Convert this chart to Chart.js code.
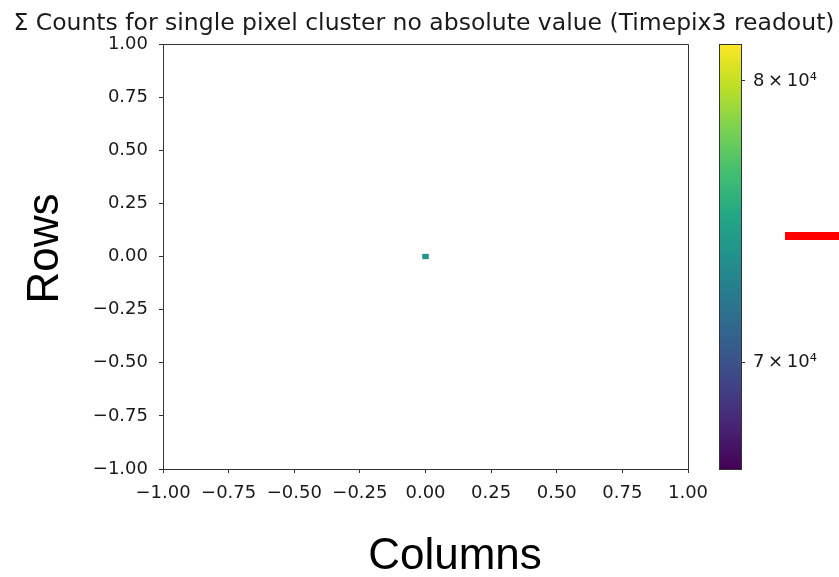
<!DOCTYPE html>
<html>
<head>
<meta charset="utf-8">
<script src="https://cdn.jsdelivr.net/npm/chart.js@4/dist/chart.umd.min.js"></script>
<style>
  html, body { margin: 0; padding: 0; background: #ffffff; overflow: hidden; }
  canvas { display: block; }
</style>
</head>
<body>
<canvas id="c" width="839" height="577"></canvas>
<script>
// ---------------- data ----------------
const titleText = 'Σ Counts for single pixel cluster no absolute value (Timepix3 readout)';
const xAxisLabel = 'Columns';
const yAxisLabel = 'Rows';
const xTickValues = [-1.00, -0.75, -0.50, -0.25, 0.00, 0.25, 0.50, 0.75, 1.00];
const yTickValues = [-1.00, -0.75, -0.50, -0.25, 0.00, 0.25, 0.50, 0.75, 1.00];
const cellColumns = [0.0];      // cell centre (column)
const cellRows = [0.0];         // cell centre (row)
const cellCounts = [74000];     // summed counts in the cell
const cellHalfWidth = 0.0125;   // half bin width in data units
const colorbarMin = 66550;
const colorbarMax = 81410;
const colorbarTickValues = [70000, 80000];
const colorbarTickLabels = ['7\u2009×\u200910⁴', '8\u2009×\u200910⁴'];

// ---------------- style ----------------
const viridisStops = ['#440154','#482475','#414487','#355f8d','#2a788e','#21918c',
                      '#22a884','#44bf70','#7ad151','#bddf26','#fde725'];
const AXIS_COLOR = '#333333';
const TEXT_COLOR = '#1a1a1a';
const TICK_FONT = { family: 'DejaVu Sans', size: 18 };
const CB_BAR_LEFT = 719, CB_BAR_RIGHT = 741;

function hexToRgb(h) {
  return [parseInt(h.slice(1,3),16), parseInt(h.slice(3,5),16), parseInt(h.slice(5,7),16)];
}
function viridis(t) {
  t = Math.max(0, Math.min(1, t));
  const f = t * (viridisStops.length - 1);
  const i = Math.min(viridisStops.length - 2, Math.floor(f));
  const u = f - i;
  const a = hexToRgb(viridisStops[i]), b = hexToRgb(viridisStops[i + 1]);
  const c = a.map((v, k) => Math.round(v + (b[k] - v) * u));
  return `rgb(${c[0]},${c[1]},${c[2]})`;
}
const fmt = v => (Math.abs(v) < 1e-9 ? 0 : v).toFixed(2).replace('-', '\u2212');
const cellData = cellColumns.map((x, i) => ({ x: x, y: cellRows[i], v: cellCounts[i] }));

const heatmapPlugin = {
  id: 'heatmapExtras',
  afterLayout(chart) {
    const cb = chart.scales.cb;
    cb.left = CB_BAR_RIGHT;
    cb.right = chart.width;
  },
  beforeDraw(chart) {
    const { ctx } = chart;
    ctx.save();
    ctx.fillStyle = '#ffffff';
    ctx.fillRect(0, 0, chart.width, chart.height);
    ctx.restore();
  },
  afterDatasetsDraw(chart) {
    const { ctx, chartArea: a, scales: { x, y, cb } } = chart;
    ctx.save();
    // cells
    chart.data.datasets[0].data.forEach(d => {
      const x0 = x.getPixelForValue(d.x - cellHalfWidth);
      const x1 = x.getPixelForValue(d.x + cellHalfWidth);
      const y0 = y.getPixelForValue(d.y + cellHalfWidth);
      const y1 = y.getPixelForValue(d.y - cellHalfWidth);
      const t = (cb.getPixelForValue(d.v) - cb.bottom) / (cb.top - cb.bottom);
      ctx.fillStyle = viridis(t);
      ctx.fillRect(x0, y0, x1 - x0, y1 - y0);
    });
    // top and right spines
    ctx.strokeStyle = AXIS_COLOR;
    ctx.lineWidth = 1;
    ctx.beginPath();
    ctx.moveTo(Math.round(a.left) + 0.5, Math.round(a.top) + 0.5);
    ctx.lineTo(Math.round(a.right) + 0.5, Math.round(a.top) + 0.5);
    ctx.lineTo(Math.round(a.right) + 0.5, Math.round(a.bottom) + 0.5);
    ctx.stroke();
    ctx.restore();
  },
  afterDraw(chart) {
    const { ctx, scales: { cb } } = chart;
    ctx.save();
    // colorbar
    const top = cb.getPixelForValue(colorbarMax);
    const bottom = cb.getPixelForValue(colorbarMin);
    const g = ctx.createLinearGradient(0, bottom, 0, top);
    viridisStops.forEach((c, i) => g.addColorStop(i / (viridisStops.length - 1), c));
    ctx.fillStyle = g;
    ctx.fillRect(CB_BAR_LEFT, top, CB_BAR_RIGHT - CB_BAR_LEFT, bottom - top);
    ctx.strokeStyle = AXIS_COLOR;
    ctx.lineWidth = 1;
    ctx.strokeRect(CB_BAR_LEFT + 0.5, Math.round(top) + 0.5, CB_BAR_RIGHT - CB_BAR_LEFT, Math.round(bottom - top));
    // axis labels
    ctx.fillStyle = '#000000';
    ctx.font = '44px "Liberation Sans", Arial, sans-serif';
    ctx.textAlign = 'center';
    ctx.textBaseline = 'alphabetic';
    ctx.fillText(xAxisLabel, 455, 569);
    ctx.translate(58, 248.5);
    ctx.rotate(-Math.PI / 2);
    ctx.fillText(yAxisLabel, 0, 0);
    ctx.restore();
    // red marker at right edge
    ctx.save();
    ctx.fillStyle = '#ff0000';
    ctx.fillRect(785, 232, chart.width - 785, 8);
    ctx.restore();
  }
};

const axisCommon = {
  type: 'linear',
  min: -1,
  max: 1,
  grid: { drawOnChartArea: false, drawTicks: true, tickLength: 4, color: AXIS_COLOR, lineWidth: 1 },
  border: { display: true, color: AXIS_COLOR, width: 1 },
};

new Chart(document.getElementById('c'), {
  type: 'scatter',
  data: {
    datasets: [{
      label: 'Σ Counts',
      data: cellData,
      pointRadius: 0,
      pointHoverRadius: 0,
      showLine: false
    }]
  },
  options: {
    responsive: false,
    animation: false,
    devicePixelRatio: 1,
    layout: { padding: { left: 9, right: 0, top: 0, bottom: 0 } },
    plugins: {
      legend: { display: false },
      tooltip: { enabled: false },
      title: {
        display: true,
        text: titleText,
        color: TEXT_COLOR,
        font: { family: 'DejaVu Sans', size: 23.5, weight: 'normal', lineHeight: 1.2 },
        padding: { top: 10, bottom: 5.8 }
      }
    },
    scales: {
      x: Object.assign({}, axisCommon, {
        position: 'bottom',
        afterBuildTicks: s => { s.ticks = xTickValues.map(v => ({ value: v })); },
        afterFit: s => { s.height = 108; },
        ticks: { callback: v => fmt(v), font: TICK_FONT, color: TEXT_COLOR, padding: 10, maxRotation: 0, autoSkip: false }
      }),
      y: Object.assign({}, axisCommon, {
        position: 'left',
        afterBuildTicks: s => { s.ticks = yTickValues.map(v => ({ value: v })); },
        afterFit: s => { s.width = 154; },
        ticks: { callback: v => fmt(v), font: TICK_FONT, color: TEXT_COLOR, padding: 11, autoSkip: false }
      }),
      cb: {
        type: 'logarithmic',
        position: 'right',
        min: colorbarMin,
        max: colorbarMax,
        afterBuildTicks: s => { s.ticks = colorbarTickValues.map(v => ({ value: v })); },
        afterFit: s => { s.width = 151; },
        grid: { drawOnChartArea: false, drawTicks: true, tickLength: 4, color: AXIS_COLOR, lineWidth: 1 },
        border: { display: true, color: AXIS_COLOR, width: 1 },
        ticks: {
          callback: v => colorbarTickLabels[colorbarTickValues.indexOf(v)] || '',
          font: TICK_FONT, color: TEXT_COLOR, padding: 8, autoSkip: false
        }
      }
    }
  },
  plugins: [heatmapPlugin]
});
</script>
</body>
</html>
